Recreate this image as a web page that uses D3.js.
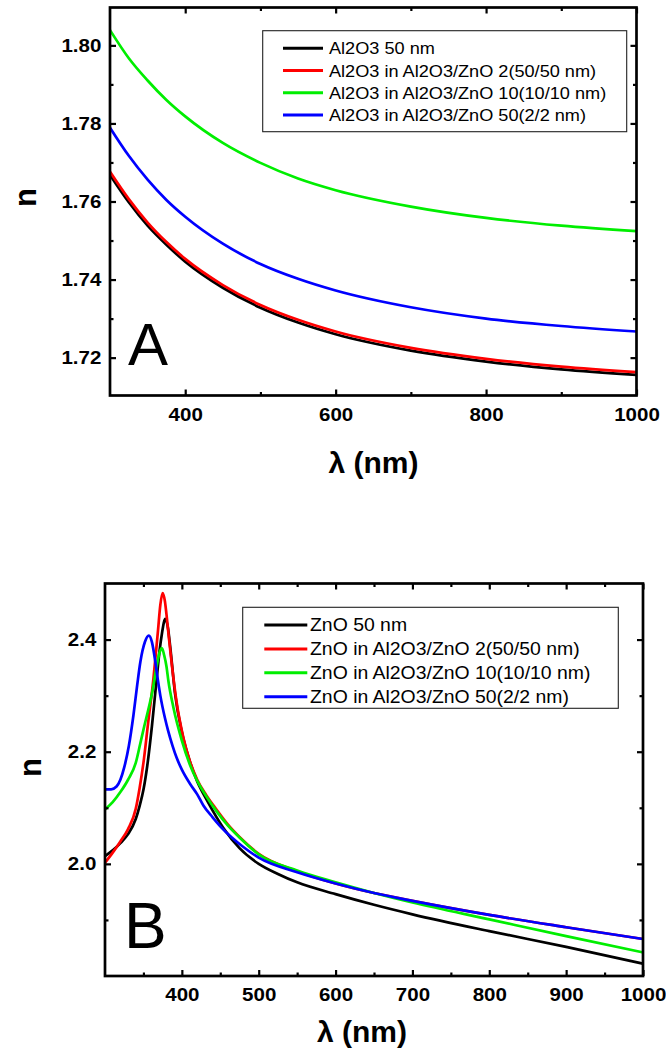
<!DOCTYPE html>
<html>
<head>
<meta charset="utf-8">
<script src="https://cdn.jsdelivr.net/npm/d3@7"></script>
<style>
  html, body { margin: 0; padding: 0; background: #fff; }
  svg { display: block; }
  text { font-family: Arial, "Liberation Sans", sans-serif; }
</style>
</head>
<body>
<svg id="chart" width="666" height="1050"></svg>
<script>
// ---------------- Panel A data (Al2O3) ----------------
const wlA = [300, 325, 350, 375, 400, 450, 500, 550, 600, 700, 800, 900, 1000];
const nAl2O3_50 = [1.7668, 1.7598, 1.7538, 1.7489, 1.7446, 1.7379, 1.7328, 1.7290, 1.7260, 1.7218, 1.7190, 1.7170, 1.7156];
const nAl2O3_2  = [1.7676, 1.7606, 1.7546, 1.7496, 1.7453, 1.7386, 1.7335, 1.7297, 1.7267, 1.7225, 1.7197, 1.7177, 1.7163];
const nAl2O3_10 = [1.8039, 1.7967, 1.7910, 1.7860, 1.7818, 1.7750, 1.7699, 1.7659, 1.7629, 1.7587, 1.7558, 1.7538, 1.7524];
const nAl2O3_50b = [1.7789, 1.7717, 1.7656, 1.7604, 1.7561, 1.7492, 1.7440, 1.7402, 1.7372, 1.7329, 1.7300, 1.7281, 1.7267];
const legendA = ["Al2O3 50 nm", "Al2O3 in Al2O3/ZnO 2(50/50 nm)", "Al2O3 in Al2O3/ZnO 10(10/10 nm)", "Al2O3 in Al2O3/ZnO 50(2/2 nm)"];
const xTicksA = [400, 600, 800, 1000];
const xMinorA = [500, 700, 900];
const yTicksA = [1.72, 1.74, 1.76, 1.78, 1.80];
const yMinorA = [1.73, 1.75, 1.77, 1.79];

// ---------------- Panel B data (ZnO) ----------------
const wlZnO50 = [300, 310, 320, 330, 340, 345, 350, 355, 361, 367, 371, 374, 378.5, 382, 385, 391, 400, 411, 420, 432, 454, 475, 500, 525, 550, 600, 650, 700, 800, 900, 1000];
const nZnO50  = [2.014, 2.024, 2.037, 2.053, 2.080, 2.103, 2.132, 2.175, 2.245, 2.327, 2.380, 2.410, 2.437, 2.420, 2.385, 2.305, 2.235, 2.180, 2.147, 2.115, 2.064, 2.028, 2.000, 1.982, 1.967, 1.946, 1.927, 1.910, 1.880, 1.852, 1.822];
const wlZnO2 = [300, 310, 320, 330, 340, 345, 350, 356, 363, 369, 372, 375, 378, 380, 383, 387, 393, 402, 410, 420, 432, 445, 460, 475, 500, 550, 600, 650, 700, 800, 900, 1000];
const nZnO2  = [2.002, 2.020, 2.040, 2.062, 2.098, 2.135, 2.180, 2.250, 2.330, 2.417, 2.462, 2.483, 2.468, 2.445, 2.405, 2.355, 2.290, 2.225, 2.185, 2.150, 2.122, 2.097, 2.070, 2.048, 2.018, 1.987, 1.965, 1.948, 1.934, 1.909, 1.887, 1.866];
const wlZnO10 = [300, 310, 320, 330, 340, 346, 351, 356, 362, 367, 371, 374, 377, 380, 382.4, 389, 400, 411, 420, 432, 445, 460, 475, 500, 550, 600, 650, 700, 800, 900, 1000];
const nZnO10  = [2.097, 2.110, 2.128, 2.150, 2.180, 2.215, 2.245, 2.273, 2.310, 2.351, 2.377, 2.385, 2.372, 2.352, 2.327, 2.279, 2.220, 2.175, 2.148, 2.120, 2.094, 2.068, 2.047, 2.017, 1.988, 1.967, 1.948, 1.931, 1.901, 1.871, 1.842];
const wlZnO50b = [300, 308, 315, 320, 325, 331, 337, 342, 346, 352, 357, 361, 365, 368, 372, 378, 382, 388, 393, 400, 411, 420, 428, 440, 450, 465, 480, 500, 550, 600, 650, 700, 800, 900, 1000];
const nZnO50b  = [2.133, 2.133, 2.138, 2.150, 2.172, 2.210, 2.265, 2.320, 2.360, 2.396, 2.407, 2.396, 2.365, 2.335, 2.300, 2.260, 2.238, 2.210, 2.190, 2.168, 2.142, 2.124, 2.104, 2.083, 2.067, 2.047, 2.030, 2.011, 1.985, 1.965, 1.948, 1.934, 1.909, 1.887, 1.866];
const legendB = ["ZnO 50 nm", "ZnO in Al2O3/ZnO 2(50/50 nm)", "ZnO in Al2O3/ZnO 10(10/10 nm)", "ZnO in Al2O3/ZnO 50(2/2 nm)"];
const xTicksB = [400, 500, 600, 700, 800, 900, 1000];
const xMinorB = [350, 450, 550, 650, 750, 850, 950];
const yTicksB = [2.0, 2.2, 2.4];
const yMinorB = [1.9, 2.1, 2.3];

const colors = ["#000000", "#ff0000", "#00ee00", "#0000ff"];

const svg = d3.select("#chart");

function drawPanel(cfg) {
  const g = svg.append("g");
  const x = d3.scaleLinear().domain(cfg.xDomain).range([cfg.left, cfg.right]);
  const y = d3.scaleLinear().domain(cfg.yDomain).range([cfg.bottom, cfg.top]);

  // curves
  const line = d3.line().x(d => x(d[0])).y(d => y(d[1])).curve(d3.curveMonotoneX);
  cfg.series.forEach((s, i) => {
    const pts = s.wl.map((w, k) => [w, s.n[k]]);
    g.append("path").datum(pts)
      .attr("fill", "none")
      .attr("stroke", colors[i])
      .attr("stroke-width", 2.7)
      .attr("stroke-linejoin", "round")
      .attr("d", line);
  });

  // axes (inward ticks)
  g.append("g").attr("transform", `translate(0,${cfg.bottom})`)
    .call(d3.axisBottom(x).tickValues(cfg.xTicks).tickSize(-6).tickPadding(12).tickFormat(d3.format("d")));
  g.append("g").attr("transform", `translate(0,${cfg.bottom})`)
    .call(d3.axisBottom(x).tickValues(cfg.xMinor).tickSize(-3.5).tickFormat(""));
  g.append("g").attr("transform", `translate(0,${cfg.top})`)
    .call(d3.axisTop(x).tickValues(cfg.xTicks).tickSize(-6).tickFormat(""));
  g.append("g").attr("transform", `translate(0,${cfg.top})`)
    .call(d3.axisTop(x).tickValues(cfg.xMinor).tickSize(-3.5).tickFormat(""));
  g.append("g").attr("transform", `translate(${cfg.left},0)`)
    .call(d3.axisLeft(y).tickValues(cfg.yTicks).tickSize(-6).tickPadding(8).tickFormat(d3.format(cfg.yFmt)));
  g.append("g").attr("transform", `translate(${cfg.left},0)`)
    .call(d3.axisLeft(y).tickValues(cfg.yMinor).tickSize(-3.5).tickFormat(""));
  g.append("g").attr("transform", `translate(${cfg.right},0)`)
    .call(d3.axisRight(y).tickValues(cfg.yTicks).tickSize(-6).tickFormat(""));
  g.append("g").attr("transform", `translate(${cfg.right},0)`)
    .call(d3.axisRight(y).tickValues(cfg.yMinor).tickSize(-3.5).tickFormat(""));

  g.selectAll(".domain").remove();
  g.selectAll(".tick line").attr("stroke", "#000").attr("stroke-width", 2.2);
  g.selectAll(".tick text")
    .attr("fill", "#000")
    .attr("transform", "scale(1.08,1)")
    .style("font-family", "Arial, 'Liberation Sans', sans-serif")
    .style("font-size", "19px")
    .style("font-weight", "bold");

  // frame
  g.append("rect")
    .attr("x", cfg.left).attr("y", cfg.top)
    .attr("width", cfg.right - cfg.left).attr("height", cfg.bottom - cfg.top)
    .attr("fill", "none").attr("stroke", "#000").attr("stroke-width", 2.7);

  // legend
  const L = cfg.legend;
  g.append("rect")
    .attr("x", L.x).attr("y", L.y).attr("width", L.w).attr("height", L.h)
    .attr("fill", "#fff").attr("stroke", "#222").attr("stroke-width", 1.1);
  cfg.labels.forEach((t, i) => {
    const yy = L.row0 + i * L.dy;
    g.append("line")
      .attr("x1", L.lx1).attr("x2", L.lx2).attr("y1", yy).attr("y2", yy)
      .attr("stroke", colors[i]).attr("stroke-width", 3);
    g.append("text")
      .attr("transform", `translate(${L.tx},${yy + L.fs * 0.37}) scale(${L.sx},1)`)
      .attr("font-size", L.fs).attr("fill", "#000")
      .text(t);
  });

  // panel letter
  g.append("text")
    .attr("x", cfg.letter.x).attr("y", cfg.letter.y)
    .attr("font-size", cfg.letter.fs).attr("fill", "#000")
    .text(cfg.letter.t);

  // axis titles
  g.append("text")
    .attr("x", cfg.xTitle.x).attr("y", cfg.xTitle.y)
    .attr("text-anchor", "middle")
    .attr("font-size", 30).attr("font-weight", "bold").attr("fill", "#000")
    .text("λ (nm)");
  g.append("text")
    .attr("transform", `translate(${cfg.yTitle.x},${cfg.yTitle.y}) rotate(-90)`)
    .attr("text-anchor", "middle")
    .attr("dy", "0.35em")
    .attr("font-size", 31).attr("font-weight", "bold").attr("fill", "#000")
    .text("n");
}

drawPanel({
  left: 110, right: 636.5, top: 7.5, bottom: 395.5,
  xDomain: [300, 1000], yDomain: [1.7103, 1.8097],
  xTicks: xTicksA, xMinor: xMinorA, yTicks: yTicksA, yMinor: yMinorA, yFmt: ".2f",
  series: [
    { wl: wlA, n: nAl2O3_50 },
    { wl: wlA, n: nAl2O3_2 },
    { wl: wlA, n: nAl2O3_10 },
    { wl: wlA, n: nAl2O3_50b }
  ],
  labels: legendA,
  legend: { x: 262.7, y: 30.7, w: 364, h: 101, lx1: 283, lx2: 323, tx: 329, row0: 48.3, dy: 22.2, fs: 16.5, sx: 1.1 },
  letter: { t: "A", x: 128, y: 365, fs: 60 },
  xTitle: { x: 373.5, y: 473 },
  yTitle: { x: 25, y: 197.5 }
});

drawPanel({
  left: 105, right: 643, top: 583.5, bottom: 976,
  xDomain: [300, 1000], yDomain: [1.8, 2.5],
  xTicks: xTicksB, xMinor: xMinorB, yTicks: yTicksB, yMinor: yMinorB, yFmt: ".1f",
  series: [
    { wl: wlZnO50, n: nZnO50 },
    { wl: wlZnO2, n: nZnO2 },
    { wl: wlZnO10, n: nZnO10 },
    { wl: wlZnO50b, n: nZnO50b }
  ],
  labels: legendB,
  legend: { x: 242.7, y: 607.3, w: 375.6, h: 101, lx1: 264.3, lx2: 307.3, tx: 310, row0: 625, dy: 23.9, fs: 17.5, sx: 1.11 },
  letter: { t: "B", x: 124, y: 948, fs: 64 },
  xTitle: { x: 362, y: 1042 },
  yTitle: { x: 30, y: 767.5 }
});
</script>
</body>
</html>
